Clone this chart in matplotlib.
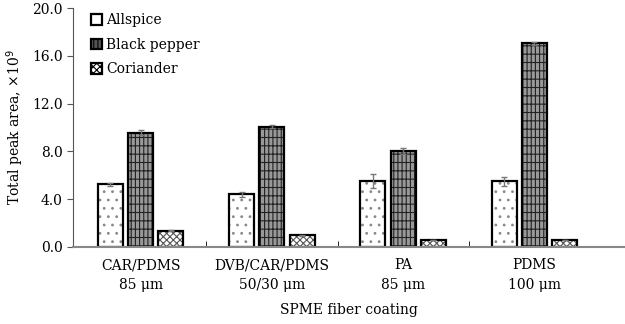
import numpy as np
import matplotlib.pyplot as plt
from matplotlib.patches import Patch

plt.rcParams['font.family'] = ['DejaVu Serif']
plt.rcParams['hatch.linewidth'] = 0.8

fibers = ['CAR/PDMS\n85 μm', 'DVB/CAR/PDMS\n50/30 μm', 'PA\n85 μm', 'PDMS\n100 μm']
allspice = [5.25, 4.4, 5.5, 5.5]
allspice_err = [0.12, 0.18, 0.6, 0.38]
black_pepper = [9.55, 10.05, 8.05, 17.05]
black_pepper_err = [0.2, 0.12, 0.25, 0.12]
coriander = [1.35, 1.0, 0.58, 0.58]
coriander_err = [0.04, 0.04, 0.03, 0.03]

fig = plt.figure(figsize=(6.25, 3.24), dpi=100)
ax = fig.add_axes([73 / 625, 77 / 324, 1 - 73 / 625, 239 / 324])

x = np.arange(len(fibers))
w = 0.19
off = 0.23
ekw = dict(ecolor='#777777', elinewidth=1, capsize=2.5, capthick=1)

styles = [
    (allspice, allspice_err, x - off, 'white', '#888888', '..'),
    (black_pepper, black_pepper_err, x, '#999999', '#222222', '||||--'),
    (coriander, coriander_err, x + off, 'white', '#555555', 'xxxxx'),
]
for vals, err, pos, fc, hc, h in styles:
    # hatch pass, then black outline on top
    ax.bar(pos, vals, w, facecolor=fc, edgecolor=hc, linewidth=0, hatch=h)
    ax.bar(pos, vals, w, yerr=err, fill=False, edgecolor='black', linewidth=1.6,
           error_kw=ekw)

ax.set_xlim(-0.515, 3.69)
ax.set_ylim(0, 20)
ax.set_yticks(np.arange(0, 20.1, 4.0))
ax.set_yticklabels([f'{v:.1f}' for v in np.arange(0, 20.1, 4.0)], fontsize=10)
ax.set_xticks(x)
ax.set_xticklabels(fibers, fontsize=10, linespacing=1.5)
ax.tick_params(axis='x', length=0, pad=8)
ax.set_xticks([0.5, 1.5, 2.5], minor=True)
ax.tick_params(axis='x', which='minor', direction='in', length=4, color='black')
ax.tick_params(axis='y', direction='out', length=4, color='#555555')

for s in ['top', 'right']:
    ax.spines[s].set_visible(False)
ax.spines['left'].set_color('#555555')
ax.spines['bottom'].set_color('#888888')
ax.spines['bottom'].set_linewidth(1.5)

ax.set_xlabel('SPME fiber coating', fontsize=10, labelpad=8)
ax.set_ylabel('Total peak area, ×10$^9$', fontsize=10, labelpad=4)

handles = [
    Patch(facecolor='white', edgecolor='black', linewidth=1.6, label='Allspice'),
    Patch(facecolor='#555555', edgecolor='black', linewidth=1.6, hatch='||||', label='Black pepper'),
    Patch(facecolor='white', edgecolor='black', linewidth=1.6, hatch='xxxxx', label='Coriander'),
]
ax.legend(handles=handles, loc='upper left', bbox_to_anchor=(0.01, 1.03), frameon=False,
          fontsize=10, handlelength=0.8, handleheight=0.8, handletextpad=0.3,
          labelspacing=0.75)

fig.savefig('out.png', dpi=100)
